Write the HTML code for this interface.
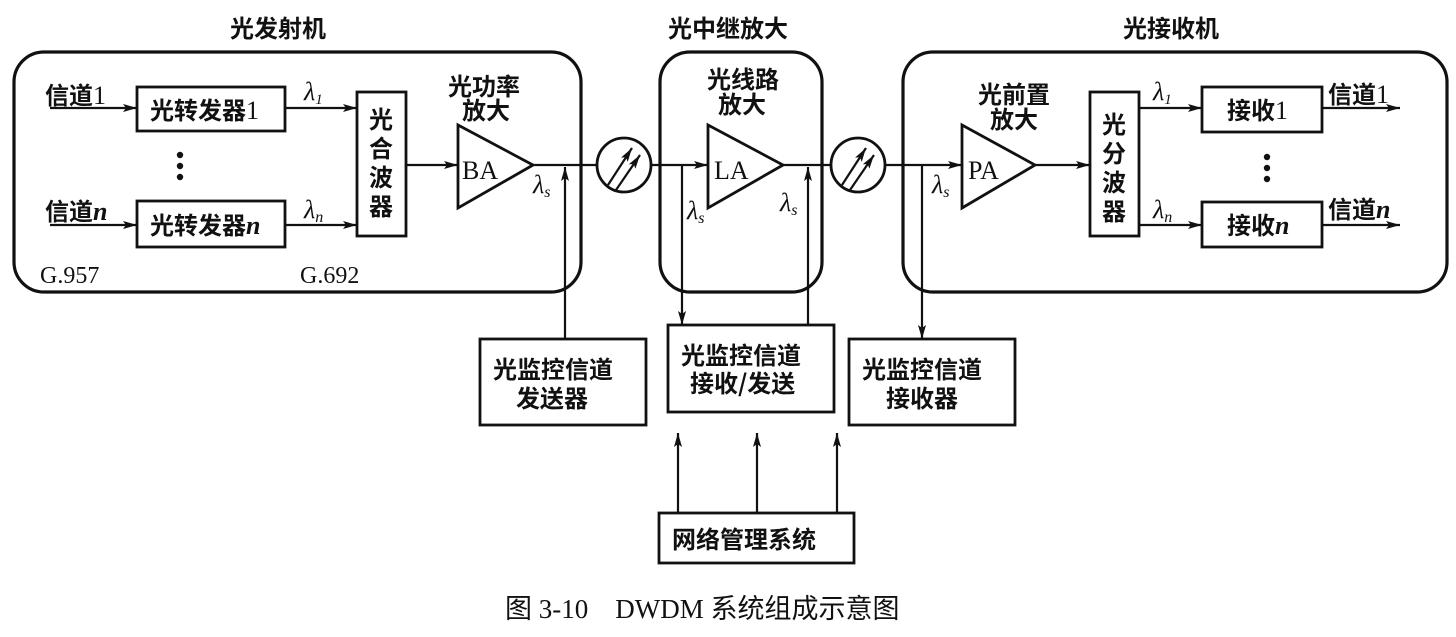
<!DOCTYPE html>
<html><head><meta charset="utf-8"><style>
html,body{margin:0;padding:0;background:#fff}
svg{display:block}
text{font-family:"Liberation Serif","Noto Sans CJK SC",serif;fill:#111}
.c{font-family:"Noto Sans CJK SC","WenQuanYi Zen Hei",sans-serif;font-weight:bold}
</style></head><body>
<svg width="1456" height="637" viewBox="0 0 1456 637" xmlns="http://www.w3.org/2000/svg">
<defs>
<marker id="a" viewBox="0 0 14 8" refX="14" refY="4" markerWidth="14" markerHeight="8" markerUnits="userSpaceOnUse" orient="auto"><path d="M0,0 L14,4 L0,8 L3,4 z" fill="#111"/></marker>
</defs>
<g fill="none" stroke="#111" stroke-width="3.2">
<rect x="14" y="52" width="567" height="240" rx="30"/>
<rect x="660" y="52" width="162" height="240" rx="30"/>
<rect x="903" y="52" width="544" height="240" rx="30"/>
</g>
<g fill="none" stroke="#111" stroke-width="2.8">
<rect x="137" y="87" width="148" height="44"/>
<rect x="137" y="201" width="148" height="46"/>
<rect x="357" y="92" width="49" height="144"/>
<rect x="1090" y="92" width="49" height="144"/>
<rect x="1202" y="87" width="120" height="45"/>
<rect x="1202" y="202" width="120" height="45"/>
<polygon points="458,125 533,165 458,208"/>
<polygon points="708,125 783,165 708,208"/>
<polygon points="962,125 1035,165 962,208"/>
<circle cx="624" cy="165" r="27"/>
<circle cx="858" cy="165" r="27"/>
<rect x="480" y="339" width="166" height="86"/>
<rect x="668" y="325" width="166" height="87"/>
<rect x="849" y="339" width="166" height="86"/>
<rect x="659" y="513" width="195" height="50"/>
</g>
<g stroke="#111" stroke-width="2.2" fill="none">
<line x1="50" y1="108" x2="137" y2="108" marker-end="url(#a)"/>
<line x1="50" y1="225" x2="137" y2="225" marker-end="url(#a)"/>
<line x1="285" y1="108" x2="357" y2="108" marker-end="url(#a)"/>
<line x1="285" y1="225" x2="357" y2="225" marker-end="url(#a)"/>
<line x1="406" y1="165" x2="458" y2="165" marker-end="url(#a)"/>
<line x1="533" y1="165" x2="597" y2="165"/>
<line x1="651" y1="165" x2="708" y2="165" marker-end="url(#a)"/>
<line x1="783" y1="165" x2="831" y2="165"/>
<line x1="885" y1="165" x2="962" y2="165" marker-end="url(#a)"/>
<line x1="1035" y1="165" x2="1090" y2="165" marker-end="url(#a)"/>
<line x1="1139" y1="108" x2="1202" y2="108" marker-end="url(#a)"/>
<line x1="1139" y1="225" x2="1202" y2="225" marker-end="url(#a)"/>
<line x1="1322" y1="108" x2="1400" y2="108" marker-end="url(#a)"/>
<line x1="1322" y1="225" x2="1400" y2="225" marker-end="url(#a)"/>
<line x1="565" y1="339" x2="565" y2="167" marker-end="url(#a)"/>
<line x1="682" y1="165" x2="682" y2="325" marker-end="url(#a)"/>
<line x1="808" y1="325" x2="808" y2="167" marker-end="url(#a)"/>
<line x1="922" y1="165" x2="922" y2="339" marker-end="url(#a)"/>
<line x1="678" y1="513" x2="678" y2="433" marker-end="url(#a)"/>
<line x1="757" y1="513" x2="757" y2="433" marker-end="url(#a)"/>
<line x1="837" y1="513" x2="837" y2="433" marker-end="url(#a)"/>
<line x1="608" y1="185" x2="632" y2="148" marker-end="url(#a)"/>
<line x1="616" y1="190" x2="640" y2="155" marker-end="url(#a)"/>
<line x1="842" y1="185" x2="866" y2="148" marker-end="url(#a)"/>
<line x1="850" y1="190" x2="874" y2="155" marker-end="url(#a)"/>
</g>
<g fill="#111"><circle cx="180" cy="155" r="3.2"/><circle cx="180" cy="166" r="3.2"/><circle cx="180" cy="177" r="3.2"/>
<circle cx="1267" cy="157" r="3.2"/><circle cx="1267" cy="168" r="3.2"/><circle cx="1267" cy="179" r="3.2"/></g>
<g class="c" font-size="24">
<text class="c" x="230" y="37">光发射机</text>
<text class="c" x="668" y="37">光中继放大</text>
<text class="c" x="1123" y="37">光接收机</text>
<text class="c" x="45" y="104">信道<tspan font-family="Liberation Serif" font-weight="normal" font-size="26">1</tspan></text>
<text class="c" x="45" y="220">信道<tspan font-family="Liberation Serif" font-style="italic" font-size="26">n</tspan></text>
<text class="c" x="150" y="119">光转发器<tspan font-family="Liberation Serif" font-weight="normal" font-size="26">1</tspan></text>
<text class="c" x="150" y="234">光转发器<tspan font-family="Liberation Serif" font-style="italic" font-size="26">n</tspan></text>
<text class="c" x="1227" y="119">接收<tspan font-family="Liberation Serif" font-weight="normal" font-size="26">1</tspan></text>
<text class="c" x="1227" y="234">接收<tspan font-family="Liberation Serif" font-style="italic" font-size="26">n</tspan></text>
<text class="c" x="1328" y="103">信道<tspan font-family="Liberation Serif" font-weight="normal" font-size="26">1</tspan></text>
<text class="c" x="1328" y="218">信道<tspan font-family="Liberation Serif" font-style="italic" font-size="26">n</tspan></text>
<text class="c" x="448" y="95">光功率</text><text class="c" x="462" y="119">放大</text>
<text class="c" x="707" y="88">光线路</text><text class="c" x="718" y="113">放大</text>
<text class="c" x="978" y="103">光前置</text><text class="c" x="990" y="128">放大</text>
<text class="c" x="369" y="128">光</text><text class="c" x="369" y="157">合</text><text class="c" x="369" y="186">波</text><text class="c" x="369" y="215">器</text>
<text class="c" x="1102" y="133">光</text><text class="c" x="1102" y="162">分</text><text class="c" x="1102" y="191">波</text><text class="c" x="1102" y="220">器</text>
<text class="c" x="493" y="378">光监控信道</text><text class="c" x="516" y="407">发送器</text>
<text class="c" x="681" y="364">光监控信道</text><text class="c" x="690" y="392">接收/发送</text>
<text class="c" x="862" y="378">光监控信道</text><text class="c" x="886" y="407">接收器</text>
<text class="c" x="672" y="548">网络管理系统</text>
</g>
<g font-size="26">
<text x="462" y="179">BA</text><text x="714" y="179">LA</text><text x="968" y="179">PA</text>
<text x="40" y="283" font-size="24">G.957</text><text x="300" y="283" font-size="24">G.692</text>
<text x="304" y="100" font-style="italic">λ<tspan font-size="15" dy="4">1</tspan></text>
<text x="304" y="218" font-style="italic">λ<tspan font-size="16" dy="4">n</tspan></text>
<text x="1153" y="100" font-style="italic">λ<tspan font-size="15" dy="4">1</tspan></text>
<text x="1153" y="218" font-style="italic">λ<tspan font-size="16" dy="4">n</tspan></text>
<text x="533" y="193" font-style="italic">λ<tspan font-size="16" dy="4">s</tspan></text>
<text x="687" y="219" font-style="italic">λ<tspan font-size="16" dy="4">s</tspan></text>
<text x="780" y="211" font-style="italic">λ<tspan font-size="16" dy="4">s</tspan></text>
<text x="932" y="193" font-style="italic">λ<tspan font-size="16" dy="4">s</tspan></text>
<text x="505" y="618" font-size="27">图 3-10　DWDM 系统组成示意图</text>
</g>
</svg>
</body></html>
